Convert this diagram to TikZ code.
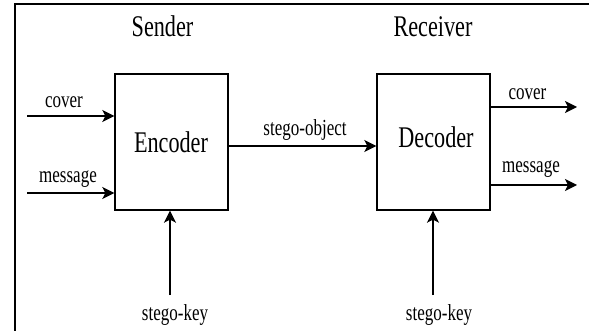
\documentclass[tikz,border=0pt]{standalone}
\usepackage{fontspec}
\setmainfont{Liberation Serif}
\newfontfamily\narrowserif[FakeStretch=0.74]{Liberation Serif}
\usetikzlibrary{arrows.meta}
\tikzset{
  block/.style={draw, line width=1.4pt, minimum width=113pt, minimum height=136pt, inner sep=0pt},
  title/.style={anchor=base, inner sep=0pt, font=\narrowserif\fontsize{30}{30}\selectfont},
  tag/.style={anchor=base, inner sep=0pt, font=\narrowserif\fontsize{23}{23}\selectfont},
  flow/.style={line width=1.4pt, -{Stealth[length=12pt, width=12pt, inset=3pt]}},
  frame/.style={line width=2pt}
}
\begin{document}
\begin{tikzpicture}[x=1pt, y=-1pt]
\useasboundingbox (0,0) rectangle (589,331);
% open frame: left and top edges only
\draw[frame] (15,331) -- (15,4) -- (589,4);

% sender and receiver blocks
\node[block] (enc) at (171.5,142) {};
\node[block] (dec) at (433.5,142) {};
\node[title] (enctxt) at (171,153) {Encoder};
\node[title] (dectxt) at (436,148) {Decoder};
\node[title] (sender) at (162.5,37) {Sender};
\node[title] (receiver) at (433,37) {Receiver};

% free ends of the connectors
\coordinate (cin)  at (27,116);
\coordinate (min)  at (27,193);
\coordinate (kin)  at (170,295);
\coordinate (obj)  at (300,146);
\coordinate (cout) at (577,107);
\coordinate (mout) at (577,185);
\coordinate (kout) at (433,295);

% encoder inputs
\draw[flow] (cin) -- (cin -| enc.west);
\draw[flow] (min) -- (min -| enc.west);
\draw[flow] (kin) -- (kin |- enc.south);
% channel
\draw[flow] (enc.east |- obj) -- (dec.west |- obj);
% decoder key and outputs
\draw[flow] (kout) -- (kout |- dec.south);
\draw[flow] (dec.east |- cout) -- (cout);
\draw[flow] (dec.east |- mout) -- (mout);

% labels
\node[tag] (lcin)  at (64,108)  {cover};
\node[tag] (lmin)  at (68,183)  {message};
\node[tag] (lkin)  at (175,320) {stego-key};
\node[tag] (lobj)  at (305,136) {stego-object};
\node[tag] (lcout) at (527.5,100) {cover};
\node[tag] (lmout) at (531,173) {message};
\node[tag] (lkout) at (439,320) {stego-key};
\end{tikzpicture}
\end{document}
